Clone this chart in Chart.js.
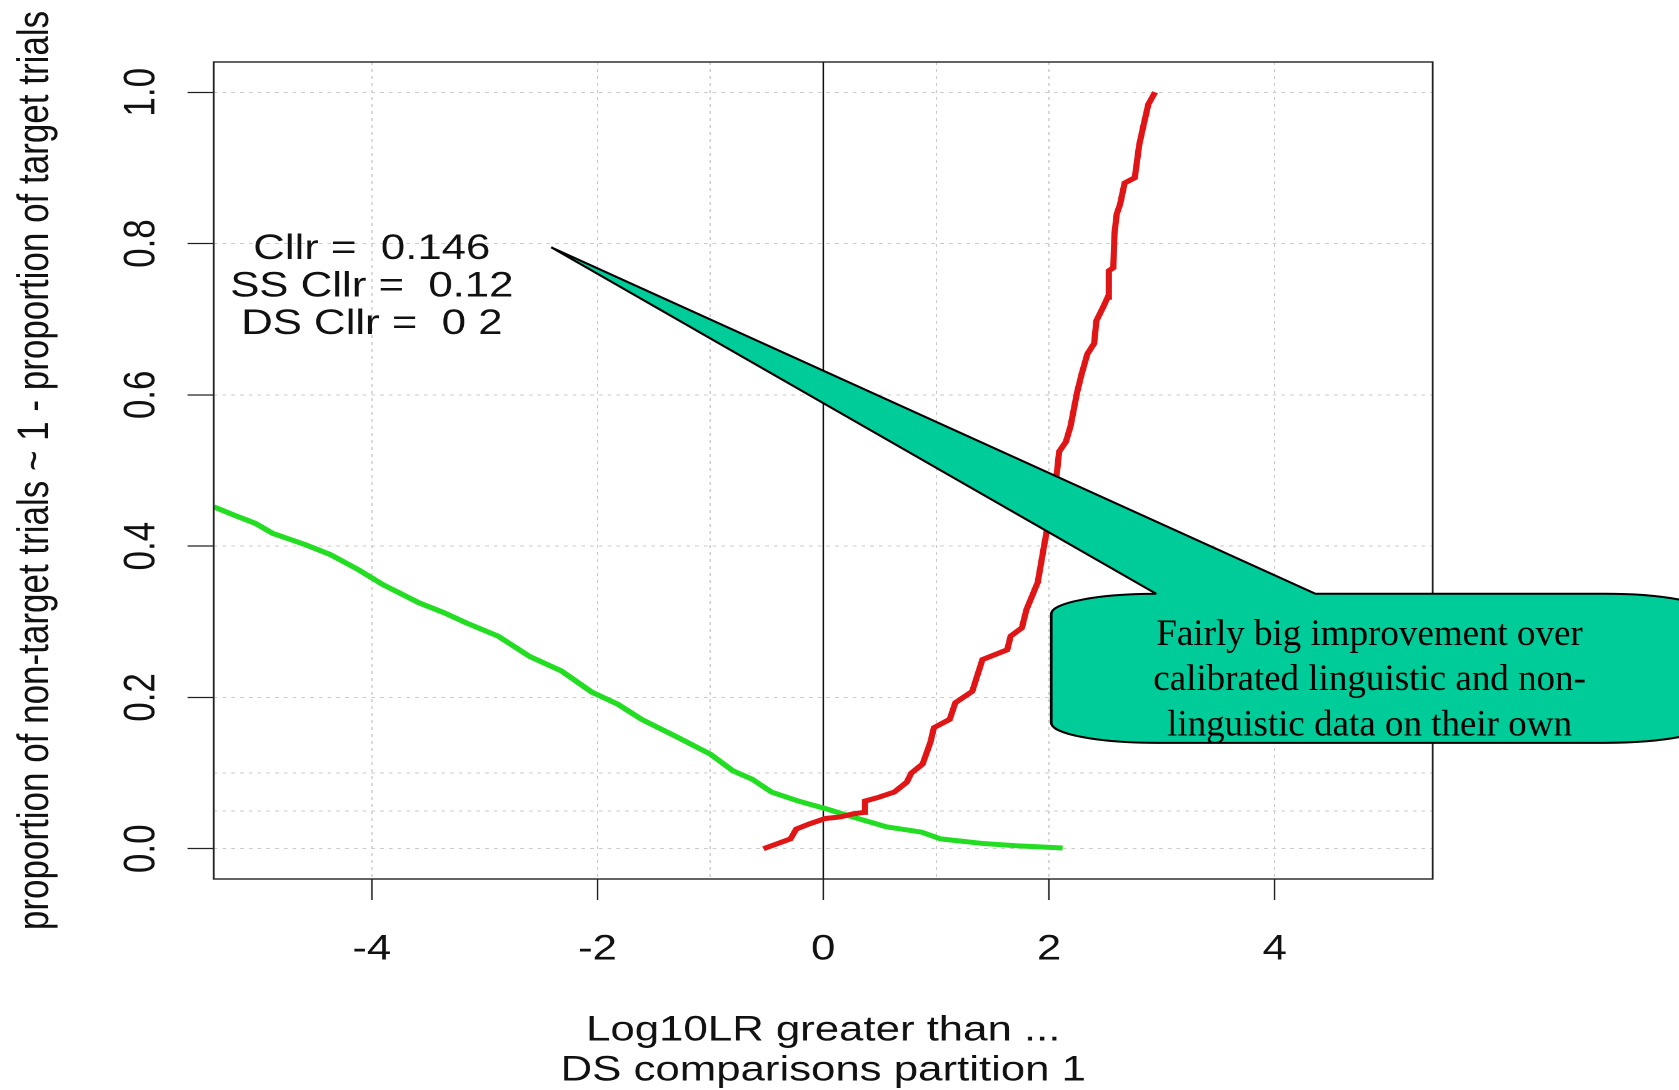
<!DOCTYPE html>
<html>
<head>
<meta charset="utf-8">
<title>Tippett plot - DS comparisons partition 1</title>
<script src="https://cdn.jsdelivr.net/npm/chart.js@4.4.1/dist/chart.umd.min.js"></script>
<style>
  html, body { margin: 0; padding: 0; background: #fff; overflow: hidden; }
  /* the figure is laid out narrow and stretched sideways, like the original R output */
  #wrap { width: 1343px; height: 1090px; transform: scaleX(1.2502); transform-origin: 0 0; }
</style>
</head>
<body>
<div id="wrap"><canvas id="tippett" width="1343" height="1090"></canvas></div>
<script>
const STRETCH = 1679 / 1343;

// target (same-source) trials: proportion rising with the LLR threshold
const targetLLR = [-0.53, -0.29, -0.24, -0.12, 0.02, 0.15, 0.26, 0.36, 0.37, 0.49,
  0.63, 0.74, 0.78, 0.88, 0.95, 0.98, 1.12, 1.17, 1.32, 1.41,
  1.63, 1.66, 1.76, 1.80, 1.90, 1.95, 1.98, 2.07, 2.09, 2.15,
  2.19, 2.25, 2.29, 2.34, 2.40, 2.42, 2.48, 2.52, 2.53, 2.57,
  2.58, 2.60, 2.63, 2.67, 2.76, 2.78, 2.80, 2.84, 2.88, 2.94];
const targetProp = [0, 0.013, 0.026, 0.033, 0.040, 0.042, 0.046, 0.048, 0.063, 0.068,
  0.075, 0.088, 0.100, 0.112, 0.141, 0.160, 0.171, 0.193, 0.208, 0.250,
  0.263, 0.281, 0.292, 0.316, 0.352, 0.395, 0.420, 0.497, 0.525, 0.538,
  0.558, 0.604, 0.628, 0.654, 0.668, 0.698, 0.716, 0.729, 0.764, 0.768,
  0.813, 0.839, 0.852, 0.880, 0.887, 0.909, 0.931, 0.958, 0.984, 1.0];

// non-target (different-source) trials: proportion falling with the threshold
const nonTargetLLR = [-5.40, -5.22, -5.03, -4.88, -4.59, -4.37, -4.12, -3.90, -3.58, -3.36,
  -3.17, -2.88, -2.60, -2.32, -2.05, -1.82, -1.61, -1.30, -1.00, -0.80,
  -0.63, -0.46, -0.22, 0.02, 0.26, 0.56, 0.87, 1.04, 1.41, 1.71, 2.12];
const nonTargetProp = [0.452, 0.441, 0.430, 0.417, 0.402, 0.389, 0.369, 0.349, 0.325, 0.312,
  0.299, 0.281, 0.254, 0.235, 0.207, 0.191, 0.171, 0.148, 0.125, 0.103,
  0.092, 0.075, 0.063, 0.053, 0.042, 0.029, 0.022, 0.013, 0.007, 0.004, 0.001];

const xTickValues = [-4, -2, 0, 2, 4];
const xGridValues = [-4, -2, -1, 0, 1, 2, 4];
const yTickValues = [0, 0.2, 0.4, 0.6, 0.8, 1.0];
const yGridValues = [0, 0.05, 0.1, 0.2, 0.4, 0.6, 0.8, 1.0];

const xTitle = ['Log10LR greater than ...', 'DS comparisons partition 1'];
const yTitle = 'proportion of non-target trials ~ 1 - proportion of target trials';
const cllrLines = ['Cllr =  0.146', 'SS Cllr =  0.12', 'DS Cllr =  0 2'];
const calloutLines = ['Fairly big improvement over', 'calibrated linguistic and non-', 'linguistic data on their own'];

const SANS = '"Liberation Sans", Arial, Helvetica, sans-serif';
const SERIF = '"Liberation Serif", "Times New Roman", serif';

function toPoints(xs, ys) {
  return xs.map((x, i) => ({ x: x, y: ys[i] }));
}

// speech-bubble shape, in data units of the plot
const callout = { tipX: -2.41, tipY: 0.795, left: 2.02, right: 7.86, top: 0.337, bottom: 0.14,
  baseL: 2.95, baseR: 4.36, textX: 4.84, textY: [0.269, 0.210, 0.150] };

const rDecor = {
  id: 'rDecor',
  beforeDatasetsDraw(chart) {
    const { ctx, chartArea: a, scales: { x } } = chart;
    const px = x.getPixelForValue(0);
    ctx.save();
    ctx.strokeStyle = '#111';
    ctx.lineWidth = 1.2;
    ctx.beginPath();
    ctx.moveTo(px, a.top);
    ctx.lineTo(px, a.bottom);
    ctx.stroke();
    ctx.restore();
  },
  afterDatasetsDraw(chart) {
    const { ctx, chartArea: a } = chart;
    ctx.save();
    ctx.strokeStyle = '#222';
    ctx.lineWidth = 1.4;
    ctx.strokeRect(a.left, a.top, a.right - a.left, a.bottom - a.top);
    ctx.restore();
  },
  afterDraw(chart) {
    const { ctx, chartArea: a, scales: { x, y } } = chart;
    ctx.save();
    ctx.fillStyle = '#111';

    // y tick labels, parallel to the axis
    ctx.font = '35px ' + SANS;
    ctx.textAlign = 'center';
    ctx.textBaseline = 'middle';
    yTickValues.forEach(v => {
      ctx.save();
      ctx.translate(114, y.getPixelForValue(v));
      ctx.rotate(-Math.PI / 2);
      ctx.fillText(v.toFixed(1), 0, 0);
      ctx.restore();
    });

    // y axis title
    ctx.save();
    ctx.translate(29, (a.top + a.bottom) / 2);
    ctx.rotate(-Math.PI / 2);
    ctx.fillText(yTitle, 0, 0);
    ctx.restore();

    // Cllr summary
    ctx.font = '35px ' + SANS;
    const cx = x.getPixelForValue(-4);
    const cy = y.getPixelForValue(0.743);
    cllrLines.forEach((line, i) => ctx.fillText(line, cx, cy + (i - 1) * 37.5));

    // callout bubble
    const L = x.getPixelForValue(callout.left), R = x.getPixelForValue(callout.right);
    const T = y.getPixelForValue(callout.top), B = y.getPixelForValue(callout.bottom);
    const rx = 84, ry = 20;
    ctx.beginPath();
    ctx.moveTo(x.getPixelForValue(callout.baseL), T);
    ctx.lineTo(x.getPixelForValue(callout.tipX), y.getPixelForValue(callout.tipY));
    ctx.lineTo(x.getPixelForValue(callout.baseR), T);
    ctx.lineTo(R - rx, T);
    ctx.ellipse(R - rx, T + ry, rx, ry, 0, -Math.PI / 2, 0);
    ctx.lineTo(R, B - ry);
    ctx.ellipse(R - rx, B - ry, rx, ry, 0, 0, Math.PI / 2);
    ctx.lineTo(L + rx, B);
    ctx.ellipse(L + rx, B - ry, rx, ry, 0, Math.PI / 2, Math.PI);
    ctx.lineTo(L, T + ry);
    ctx.ellipse(L + rx, T + ry, rx, ry, 0, Math.PI, Math.PI * 1.5);
    ctx.closePath();
    ctx.fillStyle = '#00cc99';
    ctx.fill();
    ctx.strokeStyle = '#000';
    ctx.lineWidth = 2;
    ctx.stroke();

    // bubble text sits on top of the stretched plot, so undo the stretch
    ctx.fillStyle = '#000';
    ctx.font = '37px ' + SERIF;
    ctx.textBaseline = 'alphabetic';
    const tx = x.getPixelForValue(callout.textX);
    calloutLines.forEach((line, i) => {
      ctx.save();
      ctx.translate(tx, y.getPixelForValue(callout.textY[i]));
      ctx.scale(1 / STRETCH, 1);
      ctx.fillText(line, 0, 0);
      ctx.restore();
    });
    ctx.restore();
  }
};

new Chart(document.getElementById('tippett'), {
  type: 'scatter',
  data: {
    datasets: [{
      label: 'target',
      data: toPoints(targetLLR, targetProp),
      showLine: true,
      borderColor: '#e01515',
      borderWidth: 5,
      pointRadius: 0,
      tension: 0
    }, {
      label: 'non-target',
      data: toPoints(nonTargetLLR, nonTargetProp),
      showLine: true,
      borderColor: '#22dd22',
      borderWidth: 5,
      pointRadius: 0,
      tension: 0
    }]
  },
  options: {
    responsive: false,
    animation: false,
    devicePixelRatio: 2,
    layout: { padding: { left: 0, right: 197, top: 62, bottom: 0 } },
    plugins: { legend: { display: false }, tooltip: { enabled: false } },
    scales: {
      x: {
        type: 'linear',
        position: 'bottom',
        min: -5.4,
        max: 5.4,
        afterBuildTicks: scale => { scale.ticks = xGridValues.map(v => ({ value: v })); },
        afterFit: scale => { scale.height = 211; },
        ticks: {
          autoSkip: false,
          maxRotation: 0,
          padding: 29,
          color: '#111',
          font: { family: SANS, size: 35 },
          callback: v => xTickValues.includes(v) ? String(v) : ''
        },
        grid: {
          color: c => (c.tick && c.tick.value === 0) ? 'rgba(0,0,0,0)' : '#cbcbcb',
          lineWidth: 1,
          tickLength: 21,
          tickWidth: 1.2,
          tickColor: c => (c.tick && xTickValues.includes(c.tick.value)) ? '#222' : 'rgba(0,0,0,0)'
        },
        border: { display: false, dash: [3, 4] },
        title: {
          display: true,
          text: xTitle,
          color: '#111',
          padding: { top: 0, bottom: -1 },
          font: { family: SANS, size: 35, lineHeight: 1.143 }
        }
      },
      y: {
        type: 'linear',
        position: 'left',
        min: -0.04,
        max: 1.04,
        afterBuildTicks: scale => { scale.ticks = yGridValues.map(v => ({ value: v })); },
        afterFit: scale => { scale.width = 171; },
        ticks: { display: false },
        grid: {
          color: '#cbcbcb',
          lineWidth: 1,
          tickLength: 21,
          tickWidth: 1.2,
          tickColor: c => (c.tick && yTickValues.includes(c.tick.value)) ? '#222' : 'rgba(0,0,0,0)'
        },
        border: { display: false, dash: [3, 4] }
      }
    }
  },
  plugins: [rDecor]
});
</script>
</body>
</html>
